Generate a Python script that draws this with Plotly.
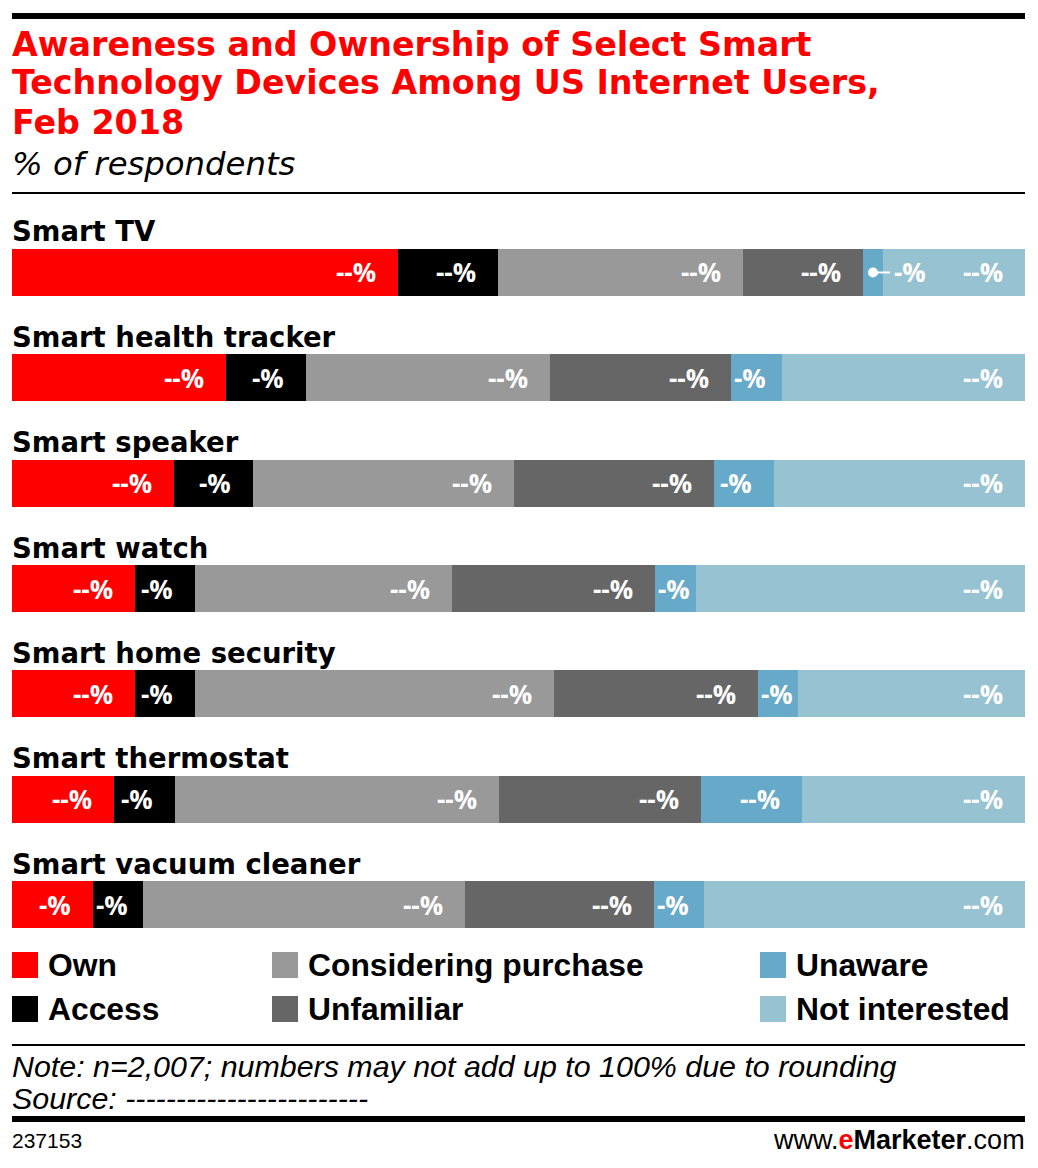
import plotly.graph_objects as go

W, H = 1038, 1168

categories = ["Smart TV", "Smart health tracker", "Smart speaker", "Smart watch",
              "Smart home security", "Smart thermostat", "Smart vacuum cleaner"]
series_names = ["Own", "Access", "Considering purchase", "Unfamiliar", "Unaware", "Not interested"]
own = [38.1, 21.1, 16.0, 12.1, 12.1, 10.1, 8.0]
access = [9.9, 7.9, 7.8, 6.0, 6.0, 6.0, 4.9]
considering = [24.2, 24.1, 25.8, 25.3, 35.4, 32.0, 31.8]
unfamiliar = [11.8, 17.9, 19.7, 20.1, 20.1, 19.9, 18.7]
unaware = [2.0, 5.0, 5.9, 4.0, 4.0, 10.0, 4.9]
not_interested = [14.0, 24.0, 24.8, 32.5, 22.4, 22.0, 31.7]
series_values = [own, access, considering, unfamiliar, unaware, not_interested]
colors = ["#ff0000", "#000000", "#999999", "#666666", "#67a9c8", "#96c2d2"]

title_lines = ["Awareness and Ownership of Select Smart",
               "Technology Devices Among US Internet Users,",
               "Feb 2018"]
subtitle = "% of respondents"
note = "Note: n=2,007; numbers may not add up to 100% due to rounding"
source = "Source: ------------------------"
chart_id = "237153"

X0, X1 = 12, 1025
PX_PER_UNIT = (X1 - X0) / 100.0


def px(x):
    return x / W


def py(y):
    return 1 - y / H


fig = go.Figure()
for name, vals, col in zip(series_names, series_values, colors):
    fig.add_trace(go.Bar(
        y=categories, x=vals, name=name, orientation="h",
        marker=dict(color=col, line=dict(width=0)),
        showlegend=False, hoverinfo="x+name",
    ))

annotations = []
shapes = []

LABEL_FONT = dict(family="Open Sans", size=26, color="white")
for i, cat in enumerate(categories):
    cum = 0.0
    for s, vals in enumerate(series_values):
        v = vals[i]
        start = round(cum, 6)
        cum = round(cum + v, 6)
        end = min(cum, 100.0)
        txt = "--%" if round(v) >= 10 else "-%"
        lw = 42 if txt == "--%" else 32
        seg_px = v * PX_PER_UNIT
        if v < 3:
            cx = start + v / 2
            shapes.append(dict(type="circle", xref="x", yref="y", xsizemode="pixel", ysizemode="pixel",
                               xanchor=cx, yanchor=cat, x0=-5, x1=5, y0=-5, y1=5,
                               fillcolor="white", line=dict(width=0)))
            shapes.append(dict(type="line", xref="x", yref="y", xsizemode="pixel", ysizemode="pixel",
                               xanchor=cx, yanchor=cat, x0=0, x1=17, y0=0, y1=0,
                               line=dict(color="white", width=2)))
            annotations.append(dict(x=end, y=cat, xref="x", yref="y", text="<b>" + txt + "</b>",
                                    showarrow=False, xanchor="left", yanchor="middle",
                                    xshift=9, font=LABEL_FONT))
        elif seg_px - 20 - lw < 3:
            annotations.append(dict(x=start, y=cat, xref="x", yref="y", text="<b>" + txt + "</b>",
                                    showarrow=False, xanchor="left", yanchor="middle",
                                    xshift=1, font=LABEL_FONT))
        else:
            annotations.append(dict(x=end, y=cat, xref="x", yref="y", text="<b>" + txt + "</b>",
                                    showarrow=False, xanchor="right", yanchor="middle",
                                    xshift=-20, font=LABEL_FONT))
    annotations.append(dict(x=px(12), y=cat, xref="paper", yref="y", text="<b>" + cat + "</b>",
                            showarrow=False, xanchor="left", yanchor="middle", yshift=41, xshift=-2,
                            font=dict(family="DejaVu Sans", size=27.5, color="black")))

TITLE_FONT = dict(family="DejaVu Sans", size=33.3, color="#ff0000")
for k, line in enumerate(title_lines):
    annotations.append(dict(x=px(12), y=py(44 + 39 * k), xref="paper", yref="paper",
                            text="<b>" + line + "</b>", showarrow=False, xanchor="left",
                            yanchor="middle", xshift=-2, font=TITLE_FONT))
annotations.append(dict(x=px(12), y=py(164), xref="paper", yref="paper", text="<i>" + subtitle + "</i>",
                        showarrow=False, xanchor="left", yanchor="middle", xshift=-2,
                        font=dict(family="DejaVu Sans", size=32.3, color="black")))

leg_cols = [12, 272, 760]
leg_rows = [965, 1009]
LEG_FONT = dict(family="Liberation Sans", size=31.8, color="black")
for s, (name, col) in enumerate(zip(series_names, colors)):
    cx = leg_cols[s // 2]
    cy = leg_rows[s % 2]
    shapes.append(dict(type="rect", xref="paper", yref="paper", x0=px(cx), x1=px(cx + 26),
                       y0=py(cy - 13), y1=py(cy + 13), fillcolor=col, line=dict(width=0)))
    annotations.append(dict(x=px(cx + 34), y=py(cy), xref="paper", yref="paper",
                            text="<b>" + name + "</b>", showarrow=False, xanchor="left",
                            yanchor="middle", font=LEG_FONT))

for yy, lw_ in [(16, 6), (193, 2), (1045, 2), (1119, 6)]:
    shapes.append(dict(type="line", xref="paper", yref="paper", x0=px(X0), x1=px(X1),
                       y0=py(yy), y1=py(yy), line=dict(color="black", width=lw_)))

NOTE_FONT = dict(family="Liberation Sans", size=30.4, color="black")
annotations.append(dict(x=px(12), y=py(1066), xref="paper", yref="paper", text="<i>" + note + "</i>",
                        showarrow=False, xanchor="left", yanchor="middle", xshift=-2, font=NOTE_FONT))
annotations.append(dict(x=px(12), y=py(1098), xref="paper", yref="paper", text="<i>" + source + "</i>",
                        showarrow=False, xanchor="left", yanchor="middle", xshift=-2, font=NOTE_FONT))
annotations.append(dict(x=px(12), y=py(1140), xref="paper", yref="paper", text=chart_id,
                        showarrow=False, xanchor="left", yanchor="middle", xshift=-2,
                        font=dict(family="Liberation Sans", size=21, color="black")))
annotations.append(dict(x=px(1025), y=py(1140), xref="paper", yref="paper",
                        text="www.<span style='color:#ff0000'><b>e</b></span><b>Marketer</b>.com",
                        showarrow=False, xanchor="right", yanchor="middle", xshift=2,
                        font=dict(family="Liberation Sans", size=27, color="black")))

fig.update_layout(
    width=W, height=H, autosize=False,
    margin=dict(l=0, r=0, t=0, b=0),
    paper_bgcolor="white", plot_bgcolor="white",
    barmode="stack", bargap=0.554,
    xaxis=dict(domain=[px(X0), px(X1)], range=[0, 100], visible=False, fixedrange=True),
    yaxis=dict(domain=[py(957.2), py(219.8)], range=[6.5, -0.5], visible=False,
               categoryorder="array", categoryarray=categories, fixedrange=True),
    annotations=annotations, shapes=shapes,
)

fig.write_html("out.html", config={"displayModeBar": False},
               post_script="document.body.style.margin='0';")
